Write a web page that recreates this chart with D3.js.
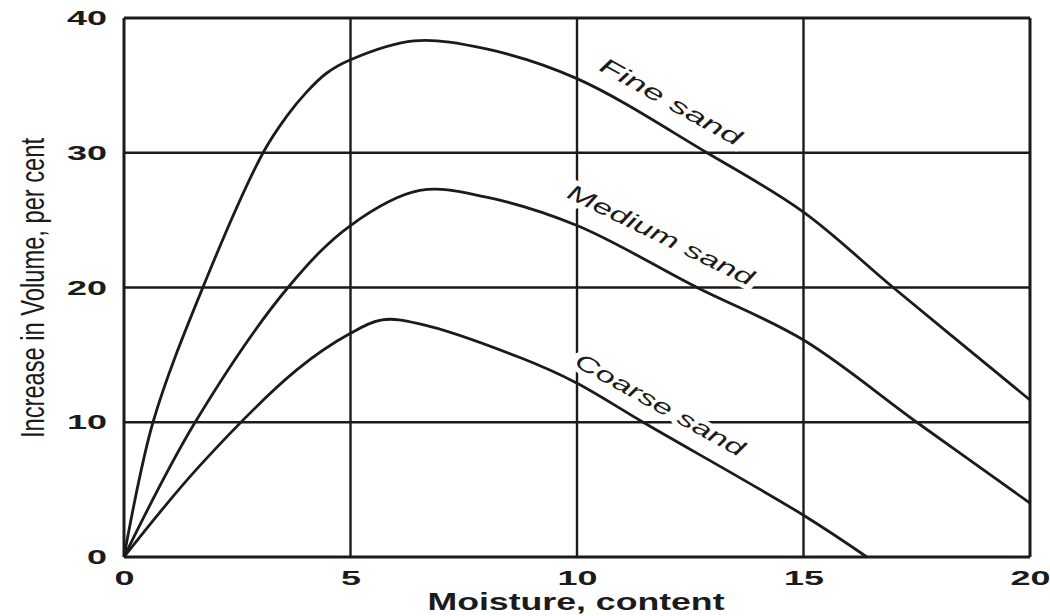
<!DOCTYPE html>
<html>
<head>
<meta charset="utf-8">
<script src="https://cdn.jsdelivr.net/npm/d3@7/dist/d3.min.js"></script>
<style>
  html, body { margin: 0; padding: 0; background: #fff; }
  svg { display: block; }
</style>
</head>
<body>
<svg id="chart" width="1050" height="616"></svg>
<script>
// ---- data ----
const xTicks = [0, 5, 10, 15, 20];
const yTicks = [0, 10, 20, 30, 40];
const xTitle = "Moisture, content";
const yTitle = "Increase in Volume, per cent";

const fineX   = [0, 0.64, 1.74, 3.07, 3.59, 4.03, 4.47, 5, 6.4, 8, 10, 12.87, 15, 16.98, 20];
const fineY   = [0, 10, 20, 30, 32.7, 34.5, 35.9, 36.9, 38.3, 37.7, 35.5, 30, 25.6, 20, 11.65];

const mediumX = [0, 1.57, 3.62, 5, 6.53, 8, 10, 12.65, 15, 17.5, 20];
const mediumY = [0, 10, 20, 24.6, 27.2, 26.7, 24.6, 20, 16.1, 10, 4.0];

const coarseX = [0, 1.68, 3.82, 5, 5.7, 6.53, 8.74, 10, 11.46, 15, 16.4];
const coarseY = [0, 6.8, 13.9, 16.6, 17.6, 17.3, 14.8, 12.9, 10, 3.1, 0];

const seriesNames = ["Fine sand", "Medium sand", "Coarse sand"];
const labelX = [12.07, 11.85, 11.83];
const labelY = [33.8, 23.9, 11.3];
const labelAngle = [29, 26, 29];
const labelLen = [158, 204, 190];

// ---- chart ----
const svg = d3.select("#chart");
const ink = "#1b1b1b";
const x = d3.scaleLinear().domain([0, 20]).range([124, 1030]);
const y = d3.scaleLinear().domain([0, 40]).range([557, 18]);

// grid
const g = svg.append("g");
g.selectAll("line.v").data(xTicks).join("line")
  .attr("x1", d => x(d)).attr("x2", d => x(d))
  .attr("y1", y(0)).attr("y2", y(40))
  .attr("stroke", ink).attr("stroke-width", d => (d === 0 || d === 20) ? 3 : 2.4);
g.selectAll("line.h").data(yTicks).join("line")
  .attr("y1", d => y(d)).attr("y2", d => y(d))
  .attr("x1", x(0)).attr("x2", x(20))
  .attr("stroke", ink).attr("stroke-width", d => (d === 0 || d === 40) ? 3 : 2.4);

// curves
const series = [
  d3.zip(fineX, fineY),
  d3.zip(mediumX, mediumY),
  d3.zip(coarseX, coarseY)
];
const line = d3.line().x(d => x(d[0])).y(d => y(d[1])).curve(d3.curveCatmullRom.alpha(0.5));
svg.selectAll("path.curve").data(series).join("path")
  .attr("class", "curve")
  .attr("d", line)
  .attr("fill", "none")
  .attr("stroke", ink)
  .attr("stroke-width", 2.8)
  .attr("stroke-linejoin", "round");

// curve labels
svg.selectAll("text.lab").data(seriesNames).join("text")
  .attr("class", "lab")
  .attr("transform", (d, i) => `translate(${x(labelX[i])},${y(labelY[i])}) rotate(${labelAngle[i]})`)
  .attr("text-anchor", "middle")
  .attr("dominant-baseline", "central")
  .attr("font-family", "'Liberation Sans', Arial, sans-serif")
  .attr("font-style", "italic")
  .attr("font-size", 22)
  .attr("textLength", (d, i) => labelLen[i])
  .attr("lengthAdjust", "spacingAndGlyphs")
  .attr("fill", ink)
  .attr("stroke", "#fff")
  .attr("stroke-width", 9)
  .attr("paint-order", "stroke")
  .text(d => d);

// axes (labels only)
const yAxis = d3.axisLeft(y).tickValues(yTicks).tickSize(0).tickPadding(17).tickFormat(d3.format("d"));
const xAxis = d3.axisBottom(x).tickValues(xTicks).tickSize(0).tickPadding(13).tickFormat(d3.format("d"));

const ya = svg.append("g").attr("transform", `translate(${x(0)},0)`).call(yAxis);
const xa = svg.append("g").attr("transform", `translate(0,${y(0)})`).call(xAxis);
[ya, xa].forEach(a => {
  a.select(".domain").remove();
  a.selectAll("text")
    .attr("font-family", "'Liberation Sans', Arial, sans-serif")
    .attr("font-weight", "bold")
    .attr("font-size", 21)
    .attr("fill", ink)
    .attr("textLength", function() { return this.textContent.length * 20; })
    .attr("lengthAdjust", "spacingAndGlyphs");
});

// axis titles
svg.append("text")
  .attr("x", 576).attr("y", 610)
  .attr("text-anchor", "middle")
  .attr("font-family", "'Liberation Sans', Arial, sans-serif")
  .attr("font-weight", "bold")
  .attr("font-size", 23)
  .attr("fill", ink)
  .attr("textLength", 297)
  .attr("lengthAdjust", "spacingAndGlyphs")
  .text(xTitle);

svg.append("text")
  .attr("transform", "translate(44,288) rotate(-90)")
  .attr("text-anchor", "middle")
  .attr("font-family", "'Liberation Sans Narrow', 'Arial Narrow', 'Liberation Sans', sans-serif")
  .attr("font-size", 34)
  .attr("fill", ink)
  .attr("textLength", 300)
  .attr("lengthAdjust", "spacingAndGlyphs")
  .text(yTitle);
</script>
</body>
</html>
